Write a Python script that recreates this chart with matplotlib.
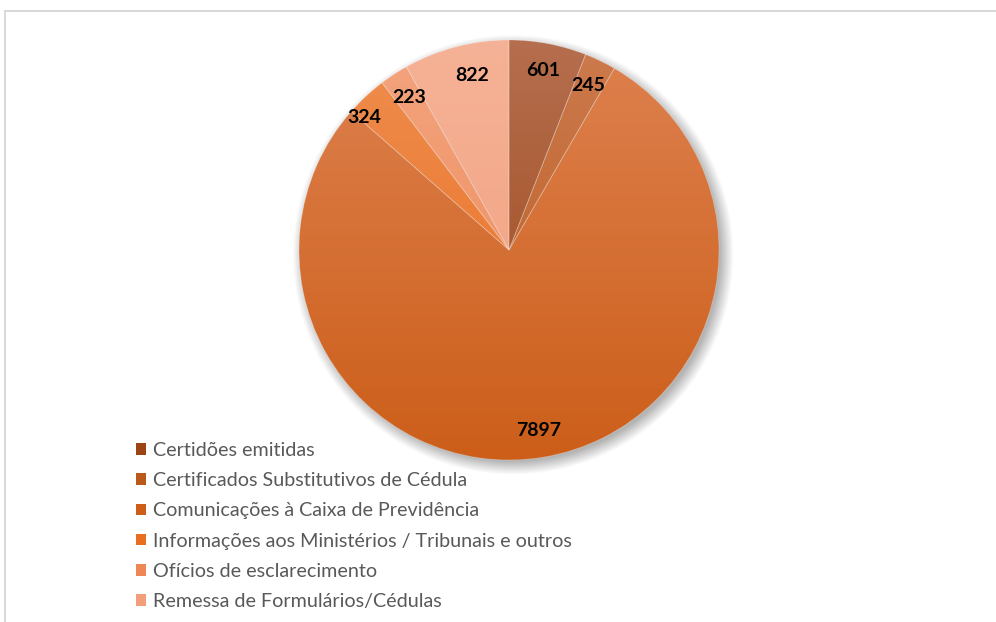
import numpy as np
import matplotlib
matplotlib.use("Agg")
import matplotlib.pyplot as plt
from matplotlib.patches import Patch, Rectangle
from matplotlib.colors import to_rgb

categories = ["Certidões emitidas",
              "Certificados Substitutivos de Cédula",
              "Comunicações à Caixa de Previdência",
              "Informações aos Ministérios / Tribunais e outros",
              "Ofícios de esclarecimento",
              "Remessa de Formulários/Cédulas"]
values = [601, 245, 7897, 324, 223, 822]
top_colors = ["#B56E4E", "#CC7A4E", "#DE814F", "#EF8D4E", "#F3A47E", "#F6B296"]
bot_colors = ["#9C4514", "#BA5A1A", "#CC5E19", "#E86E20", "#EE8756", "#F09E7C"]

plt.rcParams['font.family'] = ['Lato', 'DejaVu Sans']

W, H = 996, 622
fig = plt.figure(figsize=(W / 100, H / 100), dpi=100)
fig.patch.set_facecolor("white")

# chart frame
fig.add_artist(Rectangle((5 / W, -0.05), 1.2, 1 - 11 / H + 0.05, transform=fig.transFigure,
                         fill=False, edgecolor="#D9D9D9", linewidth=1.5))

cx, cy, r = 509, 250, 210
ax = fig.add_axes([(cx - r) / W, (H - cy - r) / H, 2 * r / W, 2 * r / H])
ax.set_xlim(-1, 1)
ax.set_ylim(-1, 1)
ax.set_aspect("equal")
ax.axis("off")

# soft shadow
n = 400
xs = np.linspace(-1.15, 1.15, n)
X, Y = np.meshgrid(xs, xs[::-1])
d = np.sqrt((X - 0.015) ** 2 + (Y + 0.025) ** 2)
alpha = np.clip((1.05 - d) / 0.065, 0, 1) * 0.45
shadow = np.zeros((n, n, 4))
shadow[..., :3] = 0.35
shadow[..., 3] = alpha
sh = ax.imshow(shadow, extent=[-1.15, 1.15, -1.15, 1.15], zorder=0, interpolation="bilinear")
sh.set_clip_on(False)

wedges, texts, autotexts = ax.pie(
    values, startangle=90, counterclock=False, radius=1,
    autopct=lambda p: f"{p * sum(values) / 100:.0f}", pctdistance=0.87,
    wedgeprops=dict(linewidth=0.6, edgecolor=(1, 1, 1, 0.25)),
    textprops=dict(fontsize=14, fontweight="bold", color="black"))

# nudge the crowded small-slice labels, as the original does
a = np.deg2rad(90 + 47.5)
autotexts[3].set_position((0.935 * np.cos(a), 0.935 * np.sin(a)))
a = np.deg2rad(90 + 12)
autotexts[5].set_position((0.85 * np.cos(a), 0.85 * np.sin(a)))

g = np.linspace(0, 1, 256)[:, None]
for w, tc, bc in zip(wedges, top_colors, bot_colors):
    t = np.array(to_rgb(tc))
    b = np.array(to_rgb(bc))
    img = (t[None, None, :] * (1 - g[..., None]) + b[None, None, :] * g[..., None])
    img = np.repeat(img, 4, axis=1)
    w.set_facecolor("none")
    im = ax.imshow(img, extent=[-1, 1, -1, 1], zorder=1, aspect="auto", interpolation="bilinear")
    im.set_clip_path(w)
    w.set_zorder(2)
for t in autotexts:
    t.set_zorder(5)
ax.set_xlim(-1, 1)
ax.set_ylim(-1, 1)

handles = [Patch(facecolor=c, edgecolor="none") for c in bot_colors]
leg = fig.legend(handles, categories, loc="upper left",
                 bbox_to_anchor=(136 / W, 1 - 442 / H), frameon=False,
                 fontsize=14.2, handlelength=0.52, handleheight=0.52,
                 handletextpad=0.32, labelspacing=0.67, borderaxespad=0,
                 borderpad=0)
for t in leg.get_texts():
    t.set_color("#595959")

fig.savefig("out.png", dpi=100, facecolor="white")
